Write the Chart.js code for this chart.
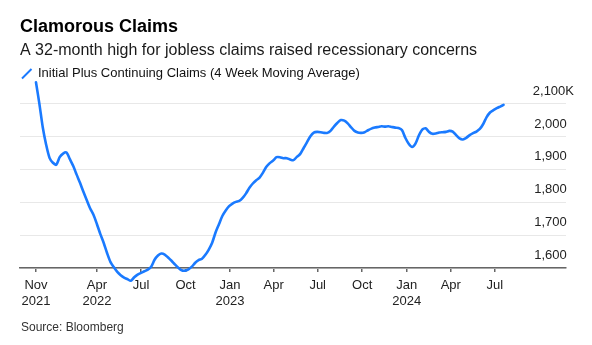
<!DOCTYPE html>
<html>
<head>
<meta charset="utf-8">
<script src="https://cdn.jsdelivr.net/npm/chart.js@4.4.1/dist/chart.umd.min.js"></script>
<style>
  html, body { margin: 0; padding: 0; background: #fff; }
  #claims { display: block; }
</style>
</head>
<body>
<canvas id="claims" width="592" height="345"></canvas>
<script>
// Initial plus continuing jobless claims, 4-week moving average, thousands.
// One value per week, starting with the week ending firstWeek.
const firstWeek = '2021-11-26';
const claimsK = [
  2165, 2100, 2028, 1975, 1935, 1920, 1914, 1937, 1948, 1951,
  1931, 1910, 1884, 1859, 1832, 1806, 1781, 1761, 1733, 1703,
  1676, 1645, 1618, 1602, 1588, 1578, 1571, 1566, 1561, 1572,
  1580, 1585, 1590, 1595, 1604, 1625, 1638, 1644, 1641, 1632,
  1622, 1611, 1601, 1593, 1592, 1596, 1604, 1616, 1624, 1628,
  1640, 1656, 1677, 1708, 1733, 1758, 1775, 1788, 1796, 1801,
  1804, 1813, 1827, 1844, 1857, 1867, 1875, 1890, 1908, 1919,
  1927, 1937, 1937, 1934, 1934, 1930, 1928, 1938, 1947, 1965,
  1983, 2001, 2012, 2014, 2013, 2011, 2011, 2018, 2031, 2042,
  2050, 2048, 2040, 2028, 2017, 2012, 2011, 2013, 2019, 2024,
  2027, 2029, 2031, 2030, 2031, 2029, 2027, 2026, 2020, 1996,
  1978, 1968, 1978, 2003, 2021, 2025, 2014, 2008, 2009, 2012,
  2013, 2014, 2017, 2015, 2004, 1994, 1991, 1996, 2004, 2010,
  2015, 2023, 2038, 2059, 2073, 2080, 2086, 2091, 2096
];

// x axis: tick dates and their (multi-line) labels
const tickDates = [
  '2021-11-26', '2022-04-01', '2022-07-01', '2022-10-01',
  '2023-01-01', '2023-04-01', '2023-07-01', '2023-10-01',
  '2024-01-01', '2024-04-01', '2024-07-01'
];
const tickLabels = [
  ['Nov', '2021'], ['Apr', '2022'], 'Jul', 'Oct',
  ['Jan', '2023'], 'Apr', 'Jul', 'Oct',
  ['Jan', '2024'], 'Apr', 'Jul'
];
const xRange = ['2021-10-24', '2024-11-25'];

// y axis ticks, thousands
const yTicks = [1600, 1700, 1800, 1900, 2000, 2100];

const TITLE = 'Clamorous Claims';
const SUBTITLE = 'A 32-month high for jobless claims raised recessionary concerns';
const SERIES_LABEL = 'Initial Plus Continuing Claims (4 Week Moving Average)';
const SOURCE = 'Source: Bloomberg';

const BLUE = '#1a7aff';
const FONT = "'Liberation Sans', Arial, Helvetica, sans-serif";

const DAY = 86400000;
function dayNum(iso) {
  const [y, m, d] = iso.split('-').map(Number);
  return Date.UTC(y, m - 1, d) / DAY;
}

const start = dayNum(firstWeek);
const points = claimsK.map((v, i) => ({ x: start + 7 * i, y: v }));

Chart.defaults.font.family = FONT;
Chart.defaults.color = '#222';

// extra room between the legend row and the plot
const legendGap = {
  id: 'legendGap',
  beforeInit(chart) {
    const fit = chart.legend.fit;
    chart.legend.fit = function () {
      fit.call(this);
      this.height += 13.4;
    };
  }
};

// source line under the axis labels
const sourceNote = {
  id: 'sourceNote',
  afterDraw(chart) {
    const { ctx } = chart;
    ctx.save();
    ctx.font = '12px ' + FONT;
    ctx.fillStyle = '#333';
    ctx.textBaseline = 'alphabetic';
    ctx.textAlign = 'left';
    ctx.fillText(SOURCE, 21, 331);
    ctx.restore();
  }
};

new Chart(document.getElementById('claims'), {
  type: 'line',
  data: {
    datasets: [{
      label: SERIES_LABEL,
      data: points,
      borderColor: BLUE,
      borderWidth: 2.6,
      tension: 0.25,
      borderCapStyle: 'round',
      borderJoinStyle: 'round',
      pointRadius: 0,
      pointHoverRadius: 0,
      pointStyle: 'line',
      pointRotation: -45,
      pointBorderColor: BLUE,
      pointBorderWidth: 2,
      clip: false,
    }],
  },
  options: {
    responsive: false,
    animation: false,
    events: [],
    layout: { padding: { left: 20, right: 10, top: 0, bottom: 30.5 } },
    plugins: {
      title: {
        display: true,
        text: TITLE,
        align: 'start',
        color: '#000',
        font: { size: 18, weight: 'bold', lineHeight: 1.2 },
        padding: { top: 16.1, bottom: 0 },
      },
      subtitle: {
        display: true,
        text: SUBTITLE,
        align: 'start',
        color: '#1a1a1a',
        font: { size: 16, lineHeight: 1.2 },
        padding: { top: 2.9, bottom: 5.4 },
      },
      legend: {
        display: true,
        position: 'top',
        align: 'start',
        labels: {
          usePointStyle: true,
          boxWidth: 9.5,
          boxHeight: 9.5,
          padding: 2,
          color: '#111',
          font: { size: 13 },
        },
      },
      tooltip: { enabled: false },
    },
    scales: {
      x: {
        type: 'linear',
        min: dayNum(xRange[0]),
        max: dayNum(xRange[1]),
        afterBuildTicks: (axis) => {
          axis.ticks = tickDates.map(d => ({ value: dayNum(d) }));
        },
        grid: {
          drawOnChartArea: false,
          drawTicks: true,
          tickLength: 4,
          color: '#666',
          lineWidth: 1.5,
        },
        border: { color: '#666', width: 1.5 },
        ticks: {
          autoSkip: false,
          maxRotation: 0,
          padding: 5,
          color: '#222',
          font: { size: 13, lineHeight: 1.25 },
          callback: (v, i) => tickLabels[i],
        },
      },
      y: {
        position: 'right',
        min: yTicks[0],
        max: yTicks[yTicks.length - 1],
        afterBuildTicks: (axis) => {
          axis.ticks = yTicks.map(v => ({ value: v }));
        },
        border: { display: false },
        grid: { color: '#e8e8e8', lineWidth: 1, drawTicks: false },
        ticks: {
          mirror: true,
          padding: 8,
          labelOffset: -12.5,
          color: '#222',
          font: { size: 13 },
          // top label carries the unit; the others get trailing space so digits line up
          callback: (v) => v === yTicks[yTicks.length - 1]
            ? v.toLocaleString('en-US') + 'K'
            : v.toLocaleString('en-US') + '  ',
        },
      },
    },
  },
  plugins: [legendGap, sourceNote],
});
</script>
</body>
</html>
